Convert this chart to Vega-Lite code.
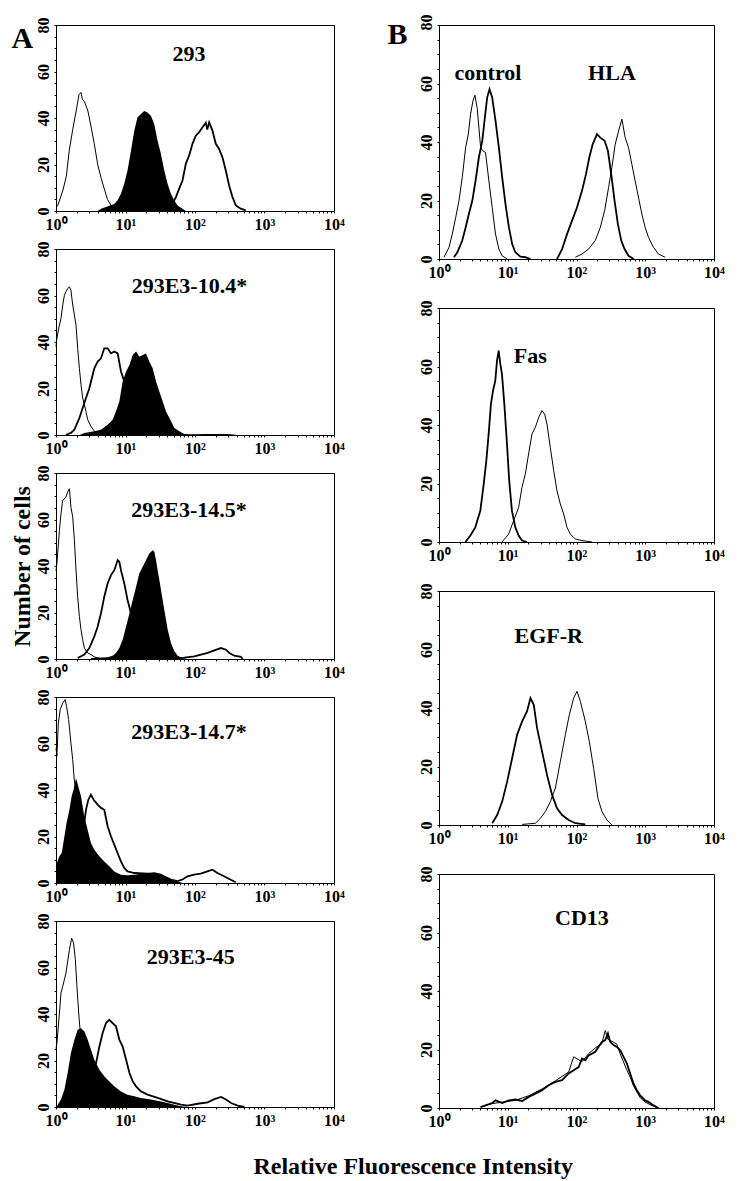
{
"$schema":"https://vega.github.io/schema/vega-lite/v6.json",
"padding":{"left":9,"top":13,"right":2,"bottom":4},
"background":"white",
"title":{"text":"Relative Fluorescence Intensity","orient":"bottom","anchor":"middle","offset":25,"dx":46,"fontSize":24,"font":"Liberation Serif","fontWeight":"bold","color":"black"},
"config":{"view":{"stroke":"black","strokeWidth":1},
"axis":{"domainColor":"black","domainWidth":1,"tickColor":"black","tickSize":2,"labelColor":"black","labelFont":"Liberation Serif","labelFontWeight":"bold","labelFontSize":16,"labelPadding":3,"grid":false,"titleFont":"Liberation Serif","titleFontWeight":"bold","titleColor":"black"}},
"datasets":{
"lab":[
{"p":"A1","t":"293","x":82,"y":67.5},
{"p":"A2","t":"293E3-10.4*","x":83,"y":64},
{"p":"A3","t":"293E3-14.5*","x":82,"y":64},
{"p":"A4","t":"293E3-14.7*","x":82,"y":65},
{"p":"A5","t":"293E3-45","x":87,"y":64.5},
{"p":"B1","t":"control","x":5.16,"y":63.7},
{"p":"B1","t":"HLA","x":328,"y":63.7},
{"p":"B2","t":"Fas","x":21.3,"y":63.7},
{"p":"B3","t":"EGF-R","x":39.4,"y":64.5},
{"p":"B4","t":"CD13","x":120,"y":65}
],
"h":[
{"p":"A1","s":"thin","x":1.05,"y":2},{"p":"A1","s":"thin","x":1.26,"y":9},{"p":"A1","s":"thin","x":1.41,"y":15},{"p":"A1","s":"thin","x":1.55,"y":26},{"p":"A1","s":"thin","x":1.74,"y":35},{"p":"A1","s":"thin","x":1.95,"y":43},{"p":"A1","s":"thin","x":2.14,"y":50},{"p":"A1","s":"thin","x":2.29,"y":51},{"p":"A1","s":"thin","x":2.40,"y":48},{"p":"A1","s":"thin","x":2.57,"y":47},{"p":"A1","s":"thin","x":2.88,"y":43},{"p":"A1","s":"thin","x":3.16,"y":37},{"p":"A1","s":"thin","x":3.55,"y":29},{"p":"A1","s":"thin","x":3.98,"y":20},{"p":"A1","s":"thin","x":4.47,"y":14},{"p":"A1","s":"thin","x":5.01,"y":9},{"p":"A1","s":"thin","x":5.50,"y":5},{"p":"A1","s":"thin","x":6.31,"y":2},{"p":"A1","s":"thin","x":7.59,"y":0},
{"p":"A1","s":"fill","x":4.0,"y":0},{"p":"A1","s":"fill","x":4.44,"y":1},{"p":"A1","s":"fill","x":6.89,"y":3},{"p":"A1","s":"fill","x":7.69,"y":4.6},{"p":"A1","s":"fill","x":8.59,"y":7.4},{"p":"A1","s":"fill","x":9.59,"y":11.7},{"p":"A1","s":"fill","x":10.7,"y":17.4},{"p":"A1","s":"fill","x":12.0,"y":26},{"p":"A1","s":"fill","x":13.4,"y":34.6},{"p":"A1","s":"fill","x":14.9,"y":40.3},{"p":"A1","s":"fill","x":16.7,"y":41.7},{"p":"A1","s":"fill","x":18.6,"y":43},{"p":"A1","s":"fill","x":20.7,"y":42.4},{"p":"A1","s":"fill","x":23.2,"y":41},{"p":"A1","s":"fill","x":25.9,"y":37.4},{"p":"A1","s":"fill","x":28.9,"y":30.3},{"p":"A1","s":"fill","x":32.3,"y":24.6},{"p":"A1","s":"fill","x":36.1,"y":17.4},{"p":"A1","s":"fill","x":40.3,"y":11.7},{"p":"A1","s":"fill","x":45.0,"y":7.4},{"p":"A1","s":"fill","x":50.2,"y":4.6},{"p":"A1","s":"fill","x":56.1,"y":2.4},{"p":"A1","s":"fill","x":66.1,"y":1},{"p":"A1","s":"fill","x":73.8,"y":0},
{"p":"A1","s":"thick","x":40,"y":0.5},{"p":"A1","s":"thick","x":47.5,"y":3.1},{"p":"A1","s":"thick","x":53.1,"y":6},{"p":"A1","s":"thick","x":59.2,"y":9.6},{"p":"A1","s":"thick","x":66.1,"y":13.1},{"p":"A1","s":"thick","x":73.8,"y":20.3},{"p":"A1","s":"thick","x":82.4,"y":23.9},{"p":"A1","s":"thick","x":92.0,"y":28.9},{"p":"A1","s":"thick","x":102.8,"y":32.4},{"p":"A1","s":"thick","x":114.8,"y":33.9},{"p":"A1","s":"thick","x":128.2,"y":36},{"p":"A1","s":"thick","x":143.2,"y":38},{"p":"A1","s":"thick","x":150,"y":35},{"p":"A1","s":"thick","x":160.0,"y":38.1},{"p":"A1","s":"thick","x":178.2,"y":34.6},{"p":"A1","s":"thick","x":199.1,"y":28.9},{"p":"A1","s":"thick","x":222.3,"y":26.7},{"p":"A1","s":"thick","x":248.3,"y":23.1},{"p":"A1","s":"thick","x":277.3,"y":17.4},{"p":"A1","s":"thick","x":309.7,"y":11},{"p":"A1","s":"thick","x":345.9,"y":6},{"p":"A1","s":"thick","x":386.4,"y":2.4},{"p":"A1","s":"thick","x":456,"y":1},{"p":"A1","s":"thick","x":537,"y":0.3},
{"p":"A2","s":"thin","x":1.0,"y":38},{"p":"A2","s":"thin","x":1.03,"y":41.6},{"p":"A2","s":"thin","x":1.12,"y":47.3},{"p":"A2","s":"thin","x":1.18,"y":50.1},{"p":"A2","s":"thin","x":1.25,"y":55.9},{"p":"A2","s":"thin","x":1.32,"y":60.1},{"p":"A2","s":"thin","x":1.39,"y":61.6},{"p":"A2","s":"thin","x":1.47,"y":63},{"p":"A2","s":"thin","x":1.56,"y":63.7},{"p":"A2","s":"thin","x":1.64,"y":62.3},{"p":"A2","s":"thin","x":1.74,"y":55.9},{"p":"A2","s":"thin","x":1.84,"y":51.6},{"p":"A2","s":"thin","x":1.94,"y":47.3},{"p":"A2","s":"thin","x":2.05,"y":37.3},{"p":"A2","s":"thin","x":2.17,"y":28.7},{"p":"A2","s":"thin","x":2.29,"y":21.6},{"p":"A2","s":"thin","x":2.42,"y":15.9},{"p":"A2","s":"thin","x":2.56,"y":13},{"p":"A2","s":"thin","x":2.70,"y":10.1},{"p":"A2","s":"thin","x":2.86,"y":6.6},{"p":"A2","s":"thin","x":3.19,"y":3.7},{"p":"A2","s":"thin","x":3.56,"y":1.6},{"p":"A2","s":"thin","x":4.21,"y":0.1},
{"p":"A2","s":"thick","x":1.39,"y":0.1},{"p":"A2","s":"thick","x":1.64,"y":0.9},{"p":"A2","s":"thick","x":1.84,"y":2.3},{"p":"A2","s":"thick","x":2.17,"y":7.3},{"p":"A2","s":"thick","x":2.42,"y":11.6},{"p":"A2","s":"thick","x":2.70,"y":15.9},{"p":"A2","s":"thick","x":3.02,"y":20.1},{"p":"A2","s":"thick","x":3.19,"y":23},{"p":"A2","s":"thick","x":3.56,"y":28.7},{"p":"A2","s":"thick","x":3.98,"y":31.6},{"p":"A2","s":"thick","x":4.44,"y":33},{"p":"A2","s":"thick","x":4.95,"y":37.3},{"p":"A2","s":"thick","x":5.53,"y":37.3},{"p":"A2","s":"thick","x":6.18,"y":35.1},{"p":"A2","s":"thick","x":6.90,"y":35.9},{"p":"A2","s":"thick","x":7.71,"y":35.1},{"p":"A2","s":"thick","x":8.61,"y":27.3},{"p":"A2","s":"thick","x":9.61,"y":23},{"p":"A2","s":"thick","x":10.7,"y":17.3},{"p":"A2","s":"thick","x":12.0,"y":11.6},{"p":"A2","s":"thick","x":13.4,"y":7.3},{"p":"A2","s":"thick","x":15.0,"y":4.4},{"p":"A2","s":"thick","x":16.7,"y":2.3},{"p":"A2","s":"thick","x":20.8,"y":0.9},{"p":"A2","s":"thick","x":29.0,"y":0.1},
{"p":"A2","s":"fill","x":2.2,"y":0},{"p":"A2","s":"fill","x":2.56,"y":0.9},{"p":"A2","s":"fill","x":3.56,"y":1.6},{"p":"A2","s":"fill","x":4.44,"y":2.3},{"p":"A2","s":"fill","x":5.53,"y":4.4},{"p":"A2","s":"fill","x":6.53,"y":6.6},{"p":"A2","s":"fill","x":7.29,"y":10.1},{"p":"A2","s":"fill","x":8.15,"y":14.4},{"p":"A2","s":"fill","x":9.10,"y":23},{"p":"A2","s":"fill","x":10.2,"y":27.3},{"p":"A2","s":"fill","x":11.4,"y":30.1},{"p":"A2","s":"fill","x":12.7,"y":34.4},{"p":"A2","s":"fill","x":14.2,"y":35.9},{"p":"A2","s":"fill","x":15.8,"y":33.7},{"p":"A2","s":"fill","x":17.7,"y":34.4},{"p":"A2","s":"fill","x":19.7,"y":35.1},{"p":"A2","s":"fill","x":22.0,"y":31.6},{"p":"A2","s":"fill","x":24.6,"y":28.7},{"p":"A2","s":"fill","x":27.5,"y":23},{"p":"A2","s":"fill","x":30.7,"y":18.7},{"p":"A2","s":"fill","x":34.3,"y":14.4},{"p":"A2","s":"fill","x":38.3,"y":10.1},{"p":"A2","s":"fill","x":45.2,"y":5.9},{"p":"A2","s":"fill","x":50.5,"y":3},{"p":"A2","s":"fill","x":59.6,"y":1.6},{"p":"A2","s":"fill","x":70.3,"y":0.4},{"p":"A2","s":"fill","x":87.5,"y":0.3},{"p":"A2","s":"fill","x":152,"y":0.4},{"p":"A2","s":"fill","x":295,"y":0.4},{"p":"A2","s":"fill","x":389,"y":0.1},
{"p":"A3","s":"thin","x":1.0,"y":38},{"p":"A3","s":"thin","x":1.03,"y":41.1},{"p":"A3","s":"thin","x":1.12,"y":55.3},{"p":"A3","s":"thin","x":1.18,"y":62.5},{"p":"A3","s":"thin","x":1.25,"y":68.2},{"p":"A3","s":"thin","x":1.39,"y":69.6},{"p":"A3","s":"thin","x":1.47,"y":71.8},{"p":"A3","s":"thin","x":1.56,"y":73.2},{"p":"A3","s":"thin","x":1.64,"y":65.3},{"p":"A3","s":"thin","x":1.74,"y":61.1},{"p":"A3","s":"thin","x":1.84,"y":51.1},{"p":"A3","s":"thin","x":1.94,"y":38.2},{"p":"A3","s":"thin","x":2.05,"y":26.8},{"p":"A3","s":"thin","x":2.17,"y":18.3},{"p":"A3","s":"thin","x":2.29,"y":12.6},{"p":"A3","s":"thin","x":2.42,"y":8.3},{"p":"A3","s":"thin","x":2.56,"y":4.7},{"p":"A3","s":"thin","x":2.86,"y":2.6},{"p":"A3","s":"thin","x":3.19,"y":1.9},{"p":"A3","s":"thin","x":3.56,"y":0.9},{"p":"A3","s":"thin","x":4.21,"y":0.3},{"p":"A3","s":"thin","x":5.53,"y":0},
{"p":"A3","s":"thick","x":2.05,"y":0.4},{"p":"A3","s":"thick","x":2.56,"y":1.9},{"p":"A3","s":"thick","x":3.02,"y":4.7},{"p":"A3","s":"thick","x":3.56,"y":9.7},{"p":"A3","s":"thick","x":3.98,"y":14},{"p":"A3","s":"thick","x":4.44,"y":19.7},{"p":"A3","s":"thick","x":4.95,"y":26.8},{"p":"A3","s":"thick","x":5.53,"y":32.5},{"p":"A3","s":"thick","x":6.18,"y":36.1},{"p":"A3","s":"thick","x":6.90,"y":38.2},{"p":"A3","s":"thick","x":7.71,"y":42.5},{"p":"A3","s":"thick","x":8.15,"y":41.8},{"p":"A3","s":"thick","x":8.61,"y":38.2},{"p":"A3","s":"thick","x":9.61,"y":32.5},{"p":"A3","s":"thick","x":10.7,"y":25.4},{"p":"A3","s":"thick","x":12.0,"y":19.7},{"p":"A3","s":"thick","x":13.4,"y":12.6},{"p":"A3","s":"thick","x":15.0,"y":6.8},{"p":"A3","s":"thick","x":16.7,"y":3.3},{"p":"A3","s":"thick","x":18.7,"y":1.9},{"p":"A3","s":"thick","x":23.3,"y":0.9},{"p":"A3","s":"thick","x":40.5,"y":0.4},{"p":"A3","s":"thick","x":70.3,"y":0.6},{"p":"A3","s":"thick","x":97.7,"y":1.1},{"p":"A3","s":"thick","x":122,"y":1.9},{"p":"A3","s":"thick","x":152,"y":2.6},{"p":"A3","s":"thick","x":190,"y":3.7},{"p":"A3","s":"thick","x":237,"y":4.7},{"p":"A3","s":"thick","x":279,"y":4},{"p":"A3","s":"thick","x":312,"y":2.6},{"p":"A3","s":"thick","x":368,"y":1.4},{"p":"A3","s":"thick","x":459,"y":0.9},{"p":"A3","s":"thick","x":485,"y":0},
{"p":"A3","s":"fill","x":3.19,"y":0.4},{"p":"A3","s":"fill","x":5.53,"y":0.7},{"p":"A3","s":"fill","x":6.53,"y":1.4},{"p":"A3","s":"fill","x":7.29,"y":2.6},{"p":"A3","s":"fill","x":8.15,"y":4.7},{"p":"A3","s":"fill","x":9.10,"y":8.3},{"p":"A3","s":"fill","x":10.2,"y":14},{"p":"A3","s":"fill","x":11.4,"y":19.7},{"p":"A3","s":"fill","x":12.7,"y":25.4},{"p":"A3","s":"fill","x":14.2,"y":31.1},{"p":"A3","s":"fill","x":15.8,"y":36.8},{"p":"A3","s":"fill","x":17.7,"y":39.7},{"p":"A3","s":"fill","x":19.7,"y":42.5},{"p":"A3","s":"fill","x":22.0,"y":45.4},{"p":"A3","s":"fill","x":24.6,"y":46.8},{"p":"A3","s":"fill","x":26.0,"y":46.1},{"p":"A3","s":"fill","x":27.5,"y":42.5},{"p":"A3","s":"fill","x":29.0,"y":38.2},{"p":"A3","s":"fill","x":30.7,"y":34},{"p":"A3","s":"fill","x":32.4,"y":29.7},{"p":"A3","s":"fill","x":36.2,"y":21.1},{"p":"A3","s":"fill","x":40.5,"y":12.6},{"p":"A3","s":"fill","x":45.2,"y":6.8},{"p":"A3","s":"fill","x":50.5,"y":3.3},{"p":"A3","s":"fill","x":56.4,"y":1.4},{"p":"A3","s":"fill","x":66.5,"y":0.3},{"p":"A3","s":"fill","x":78.3,"y":0},
{"p":"A4","s":"thin","x":1.0,"y":58},{"p":"A4","s":"thin","x":1.03,"y":54.5},{"p":"A4","s":"thin","x":1.08,"y":68.8},{"p":"A4","s":"thin","x":1.15,"y":74.6},{"p":"A4","s":"thin","x":1.25,"y":77.4},{"p":"A4","s":"thin","x":1.35,"y":78.9},{"p":"A4","s":"thin","x":1.42,"y":76},{"p":"A4","s":"thin","x":1.52,"y":70.3},{"p":"A4","s":"thin","x":1.64,"y":60.2},{"p":"A4","s":"thin","x":1.74,"y":53},{"p":"A4","s":"thin","x":1.83,"y":44.4},{"p":"A4","s":"thin","x":2.00,"y":35.8},{"p":"A4","s":"thin","x":2.16,"y":25.8},{"p":"A4","s":"thin","x":2.42,"y":18.6},{"p":"A4","s":"thin","x":2.85,"y":12.9},{"p":"A4","s":"thin","x":3.56,"y":8.6},{"p":"A4","s":"thin","x":4.44,"y":5.7},{"p":"A4","s":"thin","x":6.17,"y":3.6},{"p":"A4","s":"thin","x":8.59,"y":2.2},{"p":"A4","s":"thin","x":13.4,"y":0.7},{"p":"A4","s":"thin","x":20.7,"y":0},
{"p":"A4","s":"thick","x":1.83,"y":2.9},{"p":"A4","s":"thick","x":2.16,"y":8.6},{"p":"A4","s":"thick","x":2.42,"y":20},{"p":"A4","s":"thick","x":2.55,"y":25.8},{"p":"A4","s":"thick","x":2.70,"y":31.5},{"p":"A4","s":"thick","x":2.92,"y":35.8},{"p":"A4","s":"thick","x":3.18,"y":38},{"p":"A4","s":"thick","x":3.48,"y":35.8},{"p":"A4","s":"thick","x":3.97,"y":33.7},{"p":"A4","s":"thick","x":4.44,"y":32.3},{"p":"A4","s":"thick","x":4.95,"y":31.5},{"p":"A4","s":"thick","x":5.53,"y":24.4},{"p":"A4","s":"thick","x":6.17,"y":20.1},{"p":"A4","s":"thick","x":6.89,"y":16.5},{"p":"A4","s":"thick","x":7.69,"y":12.9},{"p":"A4","s":"thick","x":8.59,"y":9.3},{"p":"A4","s":"thick","x":9.59,"y":6.5},{"p":"A4","s":"thick","x":10.7,"y":5},{"p":"A4","s":"thick","x":13.4,"y":4.3},{"p":"A4","s":"thick","x":20.7,"y":4},{"p":"A4","s":"thick","x":32.3,"y":3.5},{"p":"A4","s":"thick","x":45.0,"y":1.5},{"p":"A4","s":"thick","x":56.1,"y":0.8},{"p":"A4","s":"thick","x":66.1,"y":1.5},{"p":"A4","s":"thick","x":78.0,"y":2.9},{"p":"A4","s":"thick","x":97.3,"y":3.6},{"p":"A4","s":"thick","x":121,"y":4},{"p":"A4","s":"thick","x":151,"y":5},{"p":"A4","s":"thick","x":178,"y":5.7},{"p":"A4","s":"thick","x":210,"y":4.3},{"p":"A4","s":"thick","x":262,"y":2.9},{"p":"A4","s":"thick","x":327,"y":1.4},{"p":"A4","s":"thick","x":386,"y":0.3},
{"p":"A4","s":"fill","x":1.0,"y":7},{"p":"A4","s":"fill","x":1.03,"y":8.6},{"p":"A4","s":"fill","x":1.12,"y":11.5},{"p":"A4","s":"fill","x":1.21,"y":12.9},{"p":"A4","s":"fill","x":1.32,"y":20},{"p":"A4","s":"fill","x":1.42,"y":25.8},{"p":"A4","s":"fill","x":1.56,"y":31.5},{"p":"A4","s":"fill","x":1.68,"y":37.3},{"p":"A4","s":"fill","x":1.79,"y":40.1},{"p":"A4","s":"fill","x":1.94,"y":45.2},{"p":"A4","s":"fill","x":2.09,"y":41.6},{"p":"A4","s":"fill","x":2.29,"y":37.3},{"p":"A4","s":"fill","x":2.55,"y":28.7},{"p":"A4","s":"fill","x":2.85,"y":22.9},{"p":"A4","s":"fill","x":3.18,"y":17.2},{"p":"A4","s":"fill","x":3.56,"y":14.3},{"p":"A4","s":"fill","x":4.20,"y":11.5},{"p":"A4","s":"fill","x":4.95,"y":9.3},{"p":"A4","s":"fill","x":5.85,"y":7.2},{"p":"A4","s":"fill","x":6.89,"y":5},{"p":"A4","s":"fill","x":8.59,"y":3.6},{"p":"A4","s":"fill","x":10.7,"y":3.3},{"p":"A4","s":"fill","x":13.4,"y":3.6},{"p":"A4","s":"fill","x":16.7,"y":4},{"p":"A4","s":"fill","x":20.7,"y":4.3},{"p":"A4","s":"fill","x":25.9,"y":4.6},{"p":"A4","s":"fill","x":32.3,"y":4},{"p":"A4","s":"fill","x":38.1,"y":2.6},{"p":"A4","s":"fill","x":45.0,"y":1.4},{"p":"A4","s":"fill","x":56.1,"y":0.7},{"p":"A4","s":"fill","x":66.1,"y":0},
{"p":"A5","s":"thin","x":1.0,"y":25},{"p":"A5","s":"thin","x":1.03,"y":27.5},{"p":"A5","s":"thin","x":1.12,"y":40.4},{"p":"A5","s":"thin","x":1.18,"y":49},{"p":"A5","s":"thin","x":1.25,"y":51.9},{"p":"A5","s":"thin","x":1.39,"y":57.6},{"p":"A5","s":"thin","x":1.56,"y":67.6},{"p":"A5","s":"thin","x":1.68,"y":72.6},{"p":"A5","s":"thin","x":1.79,"y":70.5},{"p":"A5","s":"thin","x":1.90,"y":63.3},{"p":"A5","s":"thin","x":2.00,"y":51.9},{"p":"A5","s":"thin","x":2.12,"y":40.4},{"p":"A5","s":"thin","x":2.24,"y":31.8},{"p":"A5","s":"thin","x":2.42,"y":23.2},{"p":"A5","s":"thin","x":2.70,"y":14.6},{"p":"A5","s":"thin","x":3.19,"y":8.9},{"p":"A5","s":"thin","x":3.98,"y":4.6},{"p":"A5","s":"thin","x":5.53,"y":1.7},{"p":"A5","s":"thin","x":7.71,"y":0.3},
{"p":"A5","s":"thick","x":2.56,"y":3.2},{"p":"A5","s":"thick","x":3.19,"y":11.7},{"p":"A5","s":"thick","x":3.77,"y":18.9},{"p":"A5","s":"thick","x":4.21,"y":26},{"p":"A5","s":"thick","x":4.69,"y":31.8},{"p":"A5","s":"thick","x":5.24,"y":36.1},{"p":"A5","s":"thick","x":5.85,"y":37.5},{"p":"A5","s":"thick","x":6.53,"y":36.1},{"p":"A5","s":"thick","x":7.29,"y":34.7},{"p":"A5","s":"thick","x":8.15,"y":29},{"p":"A5","s":"thick","x":9.10,"y":26},{"p":"A5","s":"thick","x":10.2,"y":20.3},{"p":"A5","s":"thick","x":11.4,"y":14.6},{"p":"A5","s":"thick","x":12.7,"y":11},{"p":"A5","s":"thick","x":14.2,"y":8.9},{"p":"A5","s":"thick","x":16.7,"y":6.7},{"p":"A5","s":"thick","x":20.8,"y":5.3},{"p":"A5","s":"thick","x":29.0,"y":3.9},{"p":"A5","s":"thick","x":40.5,"y":2.4},{"p":"A5","s":"thick","x":63.0,"y":1},{"p":"A5","s":"thick","x":78.3,"y":0.6},{"p":"A5","s":"thick","x":109,"y":1.4},{"p":"A5","s":"thick","x":152,"y":2},{"p":"A5","s":"thick","x":190,"y":3.4},{"p":"A5","s":"thick","x":237,"y":4.3},{"p":"A5","s":"thick","x":279,"y":3.2},{"p":"A5","s":"thick","x":330,"y":1.7},{"p":"A5","s":"thick","x":411,"y":0.6},{"p":"A5","s":"thick","x":513,"y":0},
{"p":"A5","s":"fill","x":1.03,"y":0.3},{"p":"A5","s":"fill","x":1.18,"y":3.2},{"p":"A5","s":"fill","x":1.32,"y":7.4},{"p":"A5","s":"fill","x":1.47,"y":14.6},{"p":"A5","s":"fill","x":1.64,"y":23.2},{"p":"A5","s":"fill","x":1.84,"y":28.9},{"p":"A5","s":"fill","x":2.05,"y":33.2},{"p":"A5","s":"fill","x":2.29,"y":33.9},{"p":"A5","s":"fill","x":2.56,"y":32.5},{"p":"A5","s":"fill","x":2.86,"y":28.9},{"p":"A5","s":"fill","x":3.19,"y":24.6},{"p":"A5","s":"fill","x":3.56,"y":20.3},{"p":"A5","s":"fill","x":4.21,"y":16},{"p":"A5","s":"fill","x":4.95,"y":13.2},{"p":"A5","s":"fill","x":5.85,"y":11},{"p":"A5","s":"fill","x":6.90,"y":8.9},{"p":"A5","s":"fill","x":8.61,"y":6.7},{"p":"A5","s":"fill","x":10.7,"y":5.3},{"p":"A5","s":"fill","x":13.4,"y":4.6},{"p":"A5","s":"fill","x":16.7,"y":3.9},{"p":"A5","s":"fill","x":23.3,"y":3.2},{"p":"A5","s":"fill","x":32.4,"y":2.4},{"p":"A5","s":"fill","x":40.5,"y":1.7},{"p":"A5","s":"fill","x":50.5,"y":1},{"p":"A5","s":"fill","x":63.0,"y":0.3},{"p":"A5","s":"fill","x":78.3,"y":0},
{"p":"B1","s":"thin","g":"control","x":1.18,"y":0.6},{"p":"B1","s":"thin","g":"control","x":1.40,"y":4},{"p":"B1","s":"thin","g":"control","x":1.56,"y":8.5},{"p":"B1","s":"thin","g":"control","x":1.75,"y":14.2},{"p":"B1","s":"thin","g":"control","x":1.95,"y":19.9},{"p":"B1","s":"thin","g":"control","x":2.18,"y":27.9},{"p":"B1","s":"thin","g":"control","x":2.44,"y":38.1},{"p":"B1","s":"thin","g":"control","x":2.67,"y":42.7},{"p":"B1","s":"thin","g":"control","x":2.88,"y":49.5},{"p":"B1","s":"thin","g":"control","x":3.11,"y":54},{"p":"B1","s":"thin","g":"control","x":3.33,"y":56},{"p":"B1","s":"thin","g":"control","x":3.60,"y":51.5},{"p":"B1","s":"thin","g":"control","x":4.03,"y":38.1},{"p":"B1","s":"thin","g":"control","x":4.34,"y":37},{"p":"B1","s":"thin","g":"control","x":4.75,"y":36.4},{"p":"B1","s":"thin","g":"control","x":5.32,"y":26.7},{"p":"B1","s":"thin","g":"control","x":5.94,"y":17.6},{"p":"B1","s":"thin","g":"control","x":6.64,"y":8.5},{"p":"B1","s":"thin","g":"control","x":7.43,"y":3.4},{"p":"B1","s":"thin","g":"control","x":8.30,"y":1.1},{"p":"B1","s":"thin","g":"control","x":9.82,"y":0},
{"p":"B1","s":"thick","g":"control","x":1.65,"y":0.6},{"p":"B1","s":"thick","g":"control","x":1.85,"y":2.3},{"p":"B1","s":"thick","g":"control","x":2.18,"y":6.3},{"p":"B1","s":"thick","g":"control","x":2.44,"y":10.8},{"p":"B1","s":"thick","g":"control","x":2.72,"y":15.4},{"p":"B1","s":"thick","g":"control","x":3.05,"y":19.9},{"p":"B1","s":"thick","g":"control","x":3.40,"y":26.7},{"p":"B1","s":"thick","g":"control","x":3.80,"y":34.7},{"p":"B1","s":"thick","g":"control","x":4.26,"y":40.4},{"p":"B1","s":"thick","g":"control","x":4.65,"y":48.4},{"p":"B1","s":"thick","g":"control","x":5.02,"y":55.2},{"p":"B1","s":"thick","g":"control","x":5.43,"y":58},{"p":"B1","s":"thick","g":"control","x":5.94,"y":55.2},{"p":"B1","s":"thick","g":"control","x":6.64,"y":47.2},{"p":"B1","s":"thick","g":"control","x":7.43,"y":38.1},{"p":"B1","s":"thick","g":"control","x":8.30,"y":27.9},{"p":"B1","s":"thick","g":"control","x":9.27,"y":18.8},{"p":"B1","s":"thick","g":"control","x":10.4,"y":10.8},{"p":"B1","s":"thick","g":"control","x":11.6,"y":5.1},{"p":"B1","s":"thick","g":"control","x":12.9,"y":2.3},{"p":"B1","s":"thick","g":"control","x":15.3,"y":0.8},{"p":"B1","s":"thick","g":"control","x":18.1,"y":0.6},{"p":"B1","s":"thick","g":"control","x":21.4,"y":0},
{"p":"B1","s":"thick","g":"HLA","x":52.1,"y":0},{"p":"B1","s":"thick","g":"HLA","x":61.7,"y":3.4},{"p":"B1","s":"thick","g":"HLA","x":72.8,"y":8.5},{"p":"B1","s":"thick","g":"HLA","x":86.1,"y":13.1},{"p":"B1","s":"thick","g":"HLA","x":101.6,"y":17.6},{"p":"B1","s":"thick","g":"HLA","x":120.2,"y":23.3},{"p":"B1","s":"thick","g":"HLA","x":137.4,"y":29},{"p":"B1","s":"thick","g":"HLA","x":153.5,"y":34.7},{"p":"B1","s":"thick","g":"HLA","x":171.8,"y":39.2},{"p":"B1","s":"thick","g":"HLA","x":198.6,"y":42.7},{"p":"B1","s":"thick","g":"HLA","x":221.8,"y":41.5},{"p":"B1","s":"thick","g":"HLA","x":256.4,"y":40.4},{"p":"B1","s":"thick","g":"HLA","x":286.4,"y":37},{"p":"B1","s":"thick","g":"HLA","x":319.9,"y":29},{"p":"B1","s":"thick","g":"HLA","x":358.1,"y":19.9},{"p":"B1","s":"thick","g":"HLA","x":399.9,"y":11.9},{"p":"B1","s":"thick","g":"HLA","x":447.7,"y":6.3},{"p":"B1","s":"thick","g":"HLA","x":500.0,"y":3.4},{"p":"B1","s":"thick","g":"HLA","x":571.5,"y":1.1},{"p":"B1","s":"thick","g":"HLA","x":676.1,"y":0},
{"p":"B1","s":"thin","g":"HLA","x":96.2,"y":0.6},{"p":"B1","s":"thin","g":"HLA","x":120.2,"y":1.7},{"p":"B1","s":"thin","g":"HLA","x":150.0,"y":3.4},{"p":"B1","s":"thin","g":"HLA","x":187.5,"y":6.3},{"p":"B1","s":"thin","g":"HLA","x":221.8,"y":10.8},{"p":"B1","s":"thin","g":"HLA","x":256.4,"y":16.5},{"p":"B1","s":"thin","g":"HLA","x":293.1,"y":24.5},{"p":"B1","s":"thin","g":"HLA","x":327.3,"y":31.3},{"p":"B1","s":"thin","g":"HLA","x":365.6,"y":39.2},{"p":"B1","s":"thin","g":"HLA","x":409.3,"y":43.8},{"p":"B1","s":"thin","g":"HLA","x":457.1,"y":47.8},{"p":"B1","s":"thin","g":"HLA","x":510.5,"y":41.5},{"p":"B1","s":"thin","g":"HLA","x":571.5,"y":38.1},{"p":"B1","s":"thin","g":"HLA","x":638.3,"y":32.4},{"p":"B1","s":"thin","g":"HLA","x":712.9,"y":26.7},{"p":"B1","s":"thin","g":"HLA","x":779.8,"y":22.2},{"p":"B1","s":"thin","g":"HLA","x":891.3,"y":15.4},{"p":"B1","s":"thin","g":"HLA","x":997.7,"y":10.8},{"p":"B1","s":"thin","g":"HLA","x":1114,"y":7.4},{"p":"B1","s":"thin","g":"HLA","x":1318,"y":4},{"p":"B1","s":"thin","g":"HLA","x":1556,"y":1.7},{"p":"B1","s":"thin","g":"HLA","x":1945,"y":0.6},
{"p":"B2","s":"thick","x":2.42,"y":0},{"p":"B2","s":"thick","x":2.86,"y":2.2},{"p":"B2","s":"thick","x":3.37,"y":5},{"p":"B2","s":"thick","x":3.99,"y":10.7},{"p":"B2","s":"thick","x":4.47,"y":19.8},{"p":"B2","s":"thick","x":4.88,"y":27.8},{"p":"B2","s":"thick","x":5.27,"y":36.9},{"p":"B2","s":"thick","x":5.70,"y":47.2},{"p":"B2","s":"thick","x":6.10,"y":51.7},{"p":"B2","s":"thick","x":6.59,"y":55.1},{"p":"B2","s":"thick","x":6.98,"y":62},{"p":"B2","s":"thick","x":7.38,"y":65.4},{"p":"B2","s":"thick","x":7.80,"y":60.8},{"p":"B2","s":"thick","x":8.24,"y":57.4},{"p":"B2","s":"thick","x":8.91,"y":47.2},{"p":"B2","s":"thick","x":9.75,"y":33.5},{"p":"B2","s":"thick","x":10.5,"y":21},{"p":"B2","s":"thick","x":11.5,"y":10.7},{"p":"B2","s":"thick","x":12.9,"y":5},{"p":"B2","s":"thick","x":14.4,"y":2.2},{"p":"B2","s":"thick","x":16.1,"y":0.5},{"p":"B2","s":"thick","x":19.1,"y":0},
{"p":"B2","s":"thin","x":8.24,"y":0},{"p":"B2","s":"thin","x":10.3,"y":2.7},{"p":"B2","s":"thin","x":12.2,"y":7.3},{"p":"B2","s":"thin","x":14.4,"y":11.8},{"p":"B2","s":"thin","x":16.1,"y":18.7},{"p":"B2","s":"thin","x":18.0,"y":23.2},{"p":"B2","s":"thin","x":20.1,"y":30.1},{"p":"B2","s":"thin","x":22.5,"y":36.9},{"p":"B2","s":"thin","x":25.2,"y":39.2},{"p":"B2","s":"thin","x":28.2,"y":42.6},{"p":"B2","s":"thin","x":31.5,"y":44.9},{"p":"B2","s":"thin","x":34.4,"y":43.7},{"p":"B2","s":"thin","x":37.2,"y":40.3},{"p":"B2","s":"thin","x":41.6,"y":32.3},{"p":"B2","s":"thin","x":46.6,"y":24.4},{"p":"B2","s":"thin","x":52.0,"y":17.5},{"p":"B2","s":"thin","x":58.2,"y":13},{"p":"B2","s":"thin","x":65.0,"y":9.6},{"p":"B2","s":"thin","x":72.8,"y":5},{"p":"B2","s":"thin","x":81.3,"y":2.7},{"p":"B2","s":"thin","x":96.2,"y":1},{"p":"B2","s":"thin","x":120,"y":0.5},{"p":"B2","s":"thin","x":168,"y":0},
{"p":"B3","s":"thick","x":5.94,"y":0.6},{"p":"B3","s":"thick","x":7.02,"y":3.4},{"p":"B3","s":"thick","x":8.30,"y":8},{"p":"B3","s":"thick","x":9.82,"y":14.9},{"p":"B3","s":"thick","x":11.6,"y":22.9},{"p":"B3","s":"thick","x":13.7,"y":30.9},{"p":"B3","s":"thick","x":16.2,"y":35.4},{"p":"B3","s":"thick","x":19.1,"y":38.9},{"p":"B3","s":"thick","x":21.4,"y":43.4},{"p":"B3","s":"thick","x":23.9,"y":41.1},{"p":"B3","s":"thick","x":26.7,"y":33.1},{"p":"B3","s":"thick","x":31.6,"y":25.1},{"p":"B3","s":"thick","x":37.3,"y":17.1},{"p":"B3","s":"thick","x":44.1,"y":10.3},{"p":"B3","s":"thick","x":52.1,"y":5.7},{"p":"B3","s":"thick","x":61.7,"y":3.4},{"p":"B3","s":"thick","x":76.9,"y":1.7},{"p":"B3","s":"thick","x":96.2,"y":0.6},{"p":"B3","s":"thick","x":134,"y":0.2},
{"p":"B3","s":"thin","x":16.2,"y":0.2},{"p":"B3","s":"thin","x":25.3,"y":0.6},{"p":"B3","s":"thin","x":29.9,"y":2.3},{"p":"B3","s":"thin","x":35.3,"y":4.6},{"p":"B3","s":"thin","x":41.7,"y":8},{"p":"B3","s":"thin","x":49.3,"y":12.6},{"p":"B3","s":"thin","x":58.2,"y":21.7},{"p":"B3","s":"thin","x":68.9,"y":30.9},{"p":"B3","s":"thin","x":78.7,"y":37.7},{"p":"B3","s":"thin","x":91.0,"y":43.4},{"p":"B3","s":"thin","x":101.6,"y":45.7},{"p":"B3","s":"thin","x":113.8,"y":42.3},{"p":"B3","s":"thin","x":134.3,"y":35.4},{"p":"B3","s":"thin","x":153.5,"y":28.6},{"p":"B3","s":"thin","x":177.4,"y":19.4},{"p":"B3","s":"thin","x":205.1,"y":9.1},{"p":"B3","s":"thin","x":234.4,"y":4.6},{"p":"B3","s":"thin","x":277.3,"y":1.7},{"p":"B3","s":"thin","x":327.3,"y":0},
{"p":"B4","s":"thick","x":4.03,"y":0.3},{"p":"B4","s":"thick","x":4.75,"y":0.9},{"p":"B4","s":"thick","x":5.94,"y":1.7},{"p":"B4","s":"thick","x":6.64,"y":2.6},{"p":"B4","s":"thick","x":8.30,"y":1.7},{"p":"B4","s":"thick","x":10.4,"y":2.6},{"p":"B4","s":"thick","x":12.9,"y":2.9},{"p":"B4","s":"thick","x":16.2,"y":2.4},{"p":"B4","s":"thick","x":20.2,"y":3.8},{"p":"B4","s":"thick","x":25.3,"y":4.9},{"p":"B4","s":"thick","x":31.6,"y":6.1},{"p":"B4","s":"thick","x":39.4,"y":7.8},{"p":"B4","s":"thick","x":49.3,"y":8.9},{"p":"B4","s":"thick","x":61.7,"y":9.5},{"p":"B4","s":"thick","x":76.9,"y":11.8},{"p":"B4","s":"thick","x":91.0,"y":12.9},{"p":"B4","s":"thick","x":107.4,"y":14},{"p":"B4","s":"thick","x":120.2,"y":16.9},{"p":"B4","s":"thick","x":134.3,"y":16.3},{"p":"B4","s":"thick","x":150.0,"y":18},{"p":"B4","s":"thick","x":167.9,"y":18.6},{"p":"B4","s":"thick","x":187.5,"y":19.2},{"p":"B4","s":"thick","x":209.9,"y":20.9},{"p":"B4","s":"thick","x":234.4,"y":22.6},{"p":"B4","s":"thick","x":261.8,"y":23.2},{"p":"B4","s":"thick","x":286.4,"y":25.5},{"p":"B4","s":"thick","x":309.7,"y":22.6},{"p":"B4","s":"thick","x":345.9,"y":21.5},{"p":"B4","s":"thick","x":387.3,"y":20.9},{"p":"B4","s":"thick","x":432.5,"y":19.7},{"p":"B4","s":"thick","x":484.2,"y":17.5},{"p":"B4","s":"thick","x":540.8,"y":15.2},{"p":"B4","s":"thick","x":603.9,"y":11.8},{"p":"B4","s":"thick","x":676.1,"y":8.3},{"p":"B4","s":"thick","x":755.1,"y":6.1},{"p":"B4","s":"thick","x":843.3,"y":4.3},{"p":"B4","s":"thick","x":997.7,"y":2.6},{"p":"B4","s":"thick","x":1114,"y":2.1},{"p":"B4","s":"thick","x":1318,"y":0.9},{"p":"B4","s":"thick","x":1556,"y":0},
{"p":"B4","s":"thin","x":4.03,"y":0.3},{"p":"B4","s":"thin","x":5.94,"y":1.5},{"p":"B4","s":"thin","x":8.30,"y":2.0},{"p":"B4","s":"thin","x":12.9,"y":2.6},{"p":"B4","s":"thin","x":20.2,"y":4.2},{"p":"B4","s":"thin","x":31.6,"y":6.5},{"p":"B4","s":"thin","x":49.3,"y":9.3},{"p":"B4","s":"thin","x":76.9,"y":12.3},{"p":"B4","s":"thin","x":91.0,"y":17.5},{"p":"B4","s":"thin","x":120,"y":15.8},{"p":"B4","s":"thin","x":150,"y":18.6},{"p":"B4","s":"thin","x":187.5,"y":20.5},{"p":"B4","s":"thin","x":234,"y":22.0},{"p":"B4","s":"thin","x":261.8,"y":26.5},{"p":"B4","s":"thin","x":286,"y":23.5},{"p":"B4","s":"thin","x":345.9,"y":22.5},{"p":"B4","s":"thin","x":387,"y":21.8},{"p":"B4","s":"thin","x":432,"y":18.5},{"p":"B4","s":"thin","x":540,"y":13},{"p":"B4","s":"thin","x":604,"y":10.5},{"p":"B4","s":"thin","x":676,"y":7.5},{"p":"B4","s":"thin","x":755,"y":5.5},{"p":"B4","s":"thin","x":843,"y":3.5},{"p":"B4","s":"thin","x":998,"y":2},{"p":"B4","s":"thin","x":1318,"y":0.6},{"p":"B4","s":"thin","x":1556,"y":0}
]},
"spacing":41,
"hconcat":[
{"spacing":38,"bounds":"flush","vconcat":[
{"width":278,"height":186,
"encoding":{"x":{"field":"x","type":"quantitative","scale":{"type":"log","domain":[1,10000],"nice":false},"axis":{"title":null,"values":[1,2,3,4,5,6,7,8,9,10,20,30,40,50,60,70,80,90,100,200,300,400,500,600,700,800,900,1000,2000,3000,4000,5000,6000,7000,8000,9000,10000],"labelExpr":"indexof([1,10,100,1000,10000],datum.value)>=0?'10'+['⁰','¹','²','³','⁴'][indexof([1,10,100,1000,10000],datum.value)]:''","labelOverlap":false,"labelFlush":false}},
"y":{"field":"y","type":"quantitative","scale":{"domain":[0,80],"nice":false},"axis":{"title":"A","titleFontSize":30,"titleAngle":0,"titleX":-45,"titleY":22,"titleAlign":"left","titleBaseline":"alphabetic","values":[0,5,10,15,20,25,30,35,40,45,50,55,60,65,70,75,80],"labelExpr":"datum.value%20==0?datum.label:''","labelAngle":-90,"labelOverlap":false,"labelFlush":false}}},
"layer":[
{"data":{"name":"h"},"transform":[{"filter":"datum.p=='A1'&&datum.s=='thin'"}],"mark":{"type":"line","color":"black","strokeWidth":1}},
{"data":{"name":"h"},"transform":[{"filter":"datum.p=='A1'&&datum.s=='thick'"}],"mark":{"type":"line","color":"black","strokeWidth":1.8}},
{"data":{"name":"h"},"transform":[{"filter":"datum.p=='A1'&&datum.s=='fill'"}],"mark":{"type":"area","color":"black"}},
{"data":{"name":"lab"},"transform":[{"filter":"datum.p=='A1'"}],"mark":{"type":"text","font":"Liberation Serif","fontWeight":"bold","fontSize":22,"color":"black"},"encoding":{"text":{"field":"t"}}}
]},
{"width":278,"height":186,
"encoding":{"x":{"field":"x","type":"quantitative","scale":{"type":"log","domain":[1,10000],"nice":false},"axis":{"title":null,"values":[1,2,3,4,5,6,7,8,9,10,20,30,40,50,60,70,80,90,100,200,300,400,500,600,700,800,900,1000,2000,3000,4000,5000,6000,7000,8000,9000,10000],"labelExpr":"indexof([1,10,100,1000,10000],datum.value)>=0?'10'+['⁰','¹','²','³','⁴'][indexof([1,10,100,1000,10000],datum.value)]:''","labelOverlap":false,"labelFlush":false}},
"y":{"field":"y","type":"quantitative","scale":{"domain":[0,80],"nice":false},"axis":{"title":null,"values":[0,5,10,15,20,25,30,35,40,45,50,55,60,65,70,75,80],"labelExpr":"datum.value%20==0?datum.label:''","labelAngle":-90,"labelOverlap":false,"labelFlush":false}}},
"layer":[
{"data":{"name":"h"},"transform":[{"filter":"datum.p=='A2'&&datum.s=='thin'"}],"mark":{"type":"line","color":"black","strokeWidth":1}},
{"data":{"name":"h"},"transform":[{"filter":"datum.p=='A2'&&datum.s=='thick'"}],"mark":{"type":"line","color":"black","strokeWidth":1.8}},
{"data":{"name":"h"},"transform":[{"filter":"datum.p=='A2'&&datum.s=='fill'"}],"mark":{"type":"area","color":"black"}},
{"data":{"name":"lab"},"transform":[{"filter":"datum.p=='A2'"}],"mark":{"type":"text","font":"Liberation Serif","fontWeight":"bold","fontSize":22,"color":"black"},"encoding":{"text":{"field":"t"}}}
]},
{"width":278,"height":186,
"encoding":{"x":{"field":"x","type":"quantitative","scale":{"type":"log","domain":[1,10000],"nice":false},"axis":{"title":null,"values":[1,2,3,4,5,6,7,8,9,10,20,30,40,50,60,70,80,90,100,200,300,400,500,600,700,800,900,1000,2000,3000,4000,5000,6000,7000,8000,9000,10000],"labelExpr":"indexof([1,10,100,1000,10000],datum.value)>=0?'10'+['⁰','¹','²','³','⁴'][indexof([1,10,100,1000,10000],datum.value)]:''","labelOverlap":false,"labelFlush":false}},
"y":{"field":"y","type":"quantitative","scale":{"domain":[0,80],"nice":false},"axis":{"title":"Number of cells","titleFontSize":24,"titleX":-34,"titleY":93,"titleAngle":-90,"titleAlign":"center","titleBaseline":"middle","values":[0,5,10,15,20,25,30,35,40,45,50,55,60,65,70,75,80],"labelExpr":"datum.value%20==0?datum.label:''","labelAngle":-90,"labelOverlap":false,"labelFlush":false}}},
"layer":[
{"data":{"name":"h"},"transform":[{"filter":"datum.p=='A3'&&datum.s=='thin'"}],"mark":{"type":"line","color":"black","strokeWidth":1}},
{"data":{"name":"h"},"transform":[{"filter":"datum.p=='A3'&&datum.s=='thick'"}],"mark":{"type":"line","color":"black","strokeWidth":1.8}},
{"data":{"name":"h"},"transform":[{"filter":"datum.p=='A3'&&datum.s=='fill'"}],"mark":{"type":"area","color":"black"}},
{"data":{"name":"lab"},"transform":[{"filter":"datum.p=='A3'"}],"mark":{"type":"text","font":"Liberation Serif","fontWeight":"bold","fontSize":22,"color":"black"},"encoding":{"text":{"field":"t"}}}
]},
{"width":278,"height":186,
"encoding":{"x":{"field":"x","type":"quantitative","scale":{"type":"log","domain":[1,10000],"nice":false},"axis":{"title":null,"values":[1,2,3,4,5,6,7,8,9,10,20,30,40,50,60,70,80,90,100,200,300,400,500,600,700,800,900,1000,2000,3000,4000,5000,6000,7000,8000,9000,10000],"labelExpr":"indexof([1,10,100,1000,10000],datum.value)>=0?'10'+['⁰','¹','²','³','⁴'][indexof([1,10,100,1000,10000],datum.value)]:''","labelOverlap":false,"labelFlush":false}},
"y":{"field":"y","type":"quantitative","scale":{"domain":[0,80],"nice":false},"axis":{"title":null,"values":[0,5,10,15,20,25,30,35,40,45,50,55,60,65,70,75,80],"labelExpr":"datum.value%20==0?datum.label:''","labelAngle":-90,"labelOverlap":false,"labelFlush":false}}},
"layer":[
{"data":{"name":"h"},"transform":[{"filter":"datum.p=='A4'&&datum.s=='thin'"}],"mark":{"type":"line","color":"black","strokeWidth":1}},
{"data":{"name":"h"},"transform":[{"filter":"datum.p=='A4'&&datum.s=='thick'"}],"mark":{"type":"line","color":"black","strokeWidth":1.8}},
{"data":{"name":"h"},"transform":[{"filter":"datum.p=='A4'&&datum.s=='fill'"}],"mark":{"type":"area","color":"black"}},
{"data":{"name":"lab"},"transform":[{"filter":"datum.p=='A4'"}],"mark":{"type":"text","font":"Liberation Serif","fontWeight":"bold","fontSize":22,"color":"black"},"encoding":{"text":{"field":"t"}}}
]},
{"width":278,"height":186,
"encoding":{"x":{"field":"x","type":"quantitative","scale":{"type":"log","domain":[1,10000],"nice":false},"axis":{"title":null,"values":[1,2,3,4,5,6,7,8,9,10,20,30,40,50,60,70,80,90,100,200,300,400,500,600,700,800,900,1000,2000,3000,4000,5000,6000,7000,8000,9000,10000],"labelExpr":"indexof([1,10,100,1000,10000],datum.value)>=0?'10'+['⁰','¹','²','³','⁴'][indexof([1,10,100,1000,10000],datum.value)]:''","labelOverlap":false,"labelFlush":false}},
"y":{"field":"y","type":"quantitative","scale":{"domain":[0,80],"nice":false},"axis":{"title":null,"values":[0,5,10,15,20,25,30,35,40,45,50,55,60,65,70,75,80],"labelExpr":"datum.value%20==0?datum.label:''","labelAngle":-90,"labelOverlap":false,"labelFlush":false}}},
"layer":[
{"data":{"name":"h"},"transform":[{"filter":"datum.p=='A5'&&datum.s=='thin'"}],"mark":{"type":"line","color":"black","strokeWidth":1}},
{"data":{"name":"h"},"transform":[{"filter":"datum.p=='A5'&&datum.s=='thick'"}],"mark":{"type":"line","color":"black","strokeWidth":1.8}},
{"data":{"name":"h"},"transform":[{"filter":"datum.p=='A5'&&datum.s=='fill'"}],"mark":{"type":"area","color":"black"}},
{"data":{"name":"lab"},"transform":[{"filter":"datum.p=='A5'"}],"mark":{"type":"text","font":"Liberation Serif","fontWeight":"bold","fontSize":22,"color":"black"},"encoding":{"text":{"field":"t"}}}
]}
]},
{"spacing":49,"bounds":"flush","vconcat":[
{"width":275,"height":234,
"encoding":{"x":{"field":"x","type":"quantitative","scale":{"type":"log","domain":[1,10000],"nice":false},"axis":{"title":null,"values":[1,2,3,4,5,6,7,8,9,10,20,30,40,50,60,70,80,90,100,200,300,400,500,600,700,800,900,1000,2000,3000,4000,5000,6000,7000,8000,9000,10000],"labelExpr":"indexof([1,10,100,1000,10000],datum.value)>=0?'10'+['⁰','¹','²','³','⁴'][indexof([1,10,100,1000,10000],datum.value)]:''","labelOverlap":false,"labelFlush":false}},
"y":{"field":"y","type":"quantitative","scale":{"domain":[0,80],"nice":false},"axis":{"title":"B","titleFontSize":30,"titleAngle":0,"titleX":-52,"titleY":18,"titleAlign":"left","titleBaseline":"alphabetic","values":[0,5,10,15,20,25,30,35,40,45,50,55,60,65,70,75,80],"labelExpr":"datum.value%20==0?datum.label:''","labelAngle":-90,"labelOverlap":false,"labelFlush":false,"labelOffset":{"condition":{"test":"datum.value==80","value":-3},"value":0}}}},
"layer":[
{"data":{"name":"h"},"transform":[{"filter":"datum.p=='B1'&&datum.s=='thin'"}],"mark":{"type":"line","color":"black","strokeWidth":1},"encoding":{"detail":{"field":"g","type":"nominal"}}},
{"data":{"name":"h"},"transform":[{"filter":"datum.p=='B1'&&datum.s=='thick'"}],"mark":{"type":"line","color":"black","strokeWidth":1.8},"encoding":{"detail":{"field":"g","type":"nominal"}}},
{"data":{"name":"lab"},"transform":[{"filter":"datum.p=='B1'"}],"mark":{"type":"text","font":"Liberation Serif","fontWeight":"bold","fontSize":22,"color":"black"},"encoding":{"text":{"field":"t"}}}
]},
{"width":275,"height":234,
"encoding":{"x":{"field":"x","type":"quantitative","scale":{"type":"log","domain":[1,10000],"nice":false},"axis":{"title":null,"values":[1,2,3,4,5,6,7,8,9,10,20,30,40,50,60,70,80,90,100,200,300,400,500,600,700,800,900,1000,2000,3000,4000,5000,6000,7000,8000,9000,10000],"labelExpr":"indexof([1,10,100,1000,10000],datum.value)>=0?'10'+['⁰','¹','²','³','⁴'][indexof([1,10,100,1000,10000],datum.value)]:''","labelOverlap":false,"labelFlush":false}},
"y":{"field":"y","type":"quantitative","scale":{"domain":[0,80],"nice":false},"axis":{"title":null,"values":[0,5,10,15,20,25,30,35,40,45,50,55,60,65,70,75,80],"labelExpr":"datum.value%20==0?datum.label:''","labelAngle":-90,"labelOverlap":false,"labelFlush":false}}},
"layer":[
{"data":{"name":"h"},"transform":[{"filter":"datum.p=='B2'&&datum.s=='thin'"}],"mark":{"type":"line","color":"black","strokeWidth":1}},
{"data":{"name":"h"},"transform":[{"filter":"datum.p=='B2'&&datum.s=='thick'"}],"mark":{"type":"line","color":"black","strokeWidth":1.8}},
{"data":{"name":"lab"},"transform":[{"filter":"datum.p=='B2'"}],"mark":{"type":"text","font":"Liberation Serif","fontWeight":"bold","fontSize":22,"color":"black"},"encoding":{"text":{"field":"t"}}}
]},
{"width":275,"height":234,
"encoding":{"x":{"field":"x","type":"quantitative","scale":{"type":"log","domain":[1,10000],"nice":false},"axis":{"title":null,"values":[1,2,3,4,5,6,7,8,9,10,20,30,40,50,60,70,80,90,100,200,300,400,500,600,700,800,900,1000,2000,3000,4000,5000,6000,7000,8000,9000,10000],"labelExpr":"indexof([1,10,100,1000,10000],datum.value)>=0?'10'+['⁰','¹','²','³','⁴'][indexof([1,10,100,1000,10000],datum.value)]:''","labelOverlap":false,"labelFlush":false}},
"y":{"field":"y","type":"quantitative","scale":{"domain":[0,80],"nice":false},"axis":{"title":null,"values":[0,5,10,15,20,25,30,35,40,45,50,55,60,65,70,75,80],"labelExpr":"datum.value%20==0?datum.label:''","labelAngle":-90,"labelOverlap":false,"labelFlush":false}}},
"layer":[
{"data":{"name":"h"},"transform":[{"filter":"datum.p=='B3'&&datum.s=='thin'"}],"mark":{"type":"line","color":"black","strokeWidth":1}},
{"data":{"name":"h"},"transform":[{"filter":"datum.p=='B3'&&datum.s=='thick'"}],"mark":{"type":"line","color":"black","strokeWidth":1.8}},
{"data":{"name":"lab"},"transform":[{"filter":"datum.p=='B3'"}],"mark":{"type":"text","font":"Liberation Serif","fontWeight":"bold","fontSize":22,"color":"black"},"encoding":{"text":{"field":"t"}}}
]},
{"width":275,"height":234,
"encoding":{"x":{"field":"x","type":"quantitative","scale":{"type":"log","domain":[1,10000],"nice":false},"axis":{"title":null,"values":[1,2,3,4,5,6,7,8,9,10,20,30,40,50,60,70,80,90,100,200,300,400,500,600,700,800,900,1000,2000,3000,4000,5000,6000,7000,8000,9000,10000],"labelExpr":"indexof([1,10,100,1000,10000],datum.value)>=0?'10'+['⁰','¹','²','³','⁴'][indexof([1,10,100,1000,10000],datum.value)]:''","labelOverlap":false,"labelFlush":false}},
"y":{"field":"y","type":"quantitative","scale":{"domain":[0,80],"nice":false},"axis":{"title":null,"values":[0,5,10,15,20,25,30,35,40,45,50,55,60,65,70,75,80],"labelExpr":"datum.value%20==0?datum.label:''","labelAngle":-90,"labelOverlap":false,"labelFlush":false}}},
"layer":[
{"data":{"name":"h"},"transform":[{"filter":"datum.p=='B4'&&datum.s=='thin'"}],"mark":{"type":"line","color":"black","strokeWidth":1}},
{"data":{"name":"h"},"transform":[{"filter":"datum.p=='B4'&&datum.s=='thick'"}],"mark":{"type":"line","color":"black","strokeWidth":1.8}},
{"data":{"name":"lab"},"transform":[{"filter":"datum.p=='B4'"}],"mark":{"type":"text","font":"Liberation Serif","fontWeight":"bold","fontSize":22,"color":"black"},"encoding":{"text":{"field":"t"}}}
]}
]}
]
}
